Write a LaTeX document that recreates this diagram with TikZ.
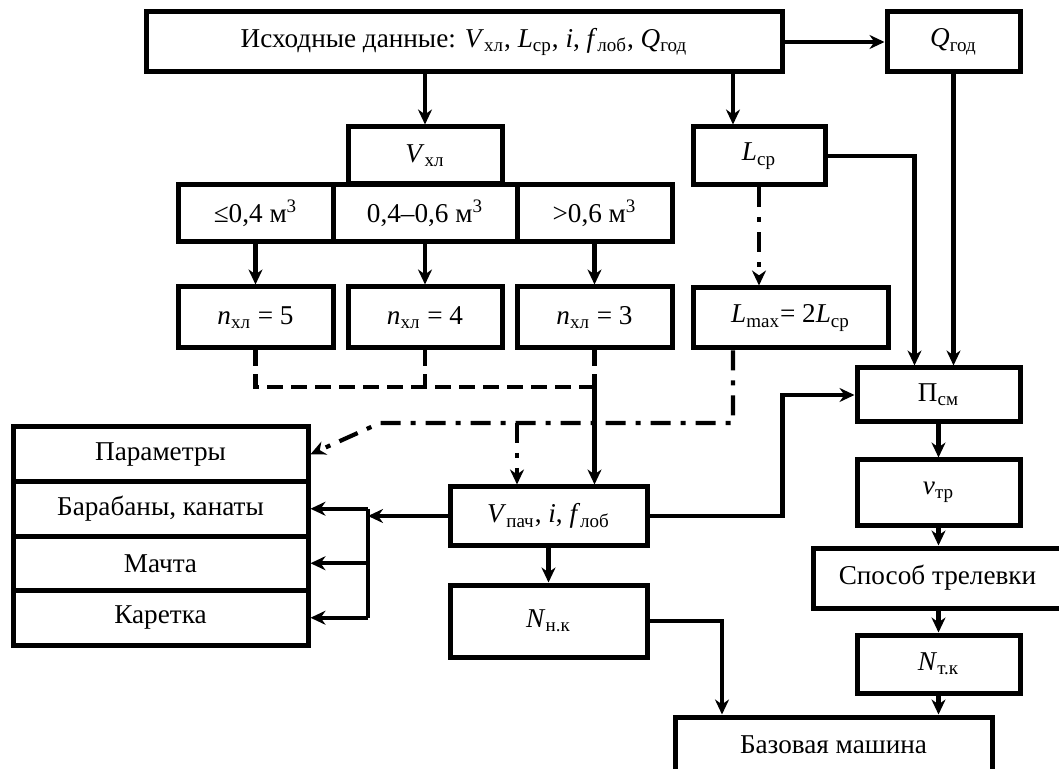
\documentclass[tikz,border=0pt]{standalone}
\usepackage{fontspec}
\setmainfont{Liberation Serif}
\usetikzlibrary{arrows.meta}

\newcommand{\vr}[2]{\textit{#1}\textsubscript{#2}}

\begin{document}
\begin{tikzpicture}[x=0.5pt,y=-0.5pt,
  font=\fontsize{13.6}{16}\selectfont,
  box/.style={draw,line width=2.5pt,inner sep=0pt,align=center},
  wire/.style={line width=2.1pt},
  arr/.style={line width=2.1pt,-{Stealth[length=7.5pt,width=7pt]}},
  dashline/.style={line width=2.1pt,dash pattern=on 8pt off 4pt},
  dotline/.style={line width=2.1pt,dash pattern=on 10pt off 5pt on 2.5pt off 5pt}]
\useasboundingbox (0,0) rectangle (1059,769);

% input data
\node[box,minimum width=318pt,minimum height=30pt] (init) at (464,42) {Исходные данные: \vr{V}{хл}, \vr{L}{ср}, \textit{i}, \vr{f}{лоб}, \vr{Q}{год}};
\node[box,minimum width=66.5pt,minimum height=30pt] (Qgod) at (953.5,42) {\vr{Q}{год}};

% volume of a tree
\node[box,minimum width=77pt,minimum height=28.5pt] (Vxl) at (425,155.5) {\vr{V}{хл}};
\node[box,minimum width=77.5pt,minimum height=28.5pt] (le04) at (255.5,213.5) {≤0,4 м\textsuperscript{3}};
\node[box,minimum width=92pt,minimum height=28.5pt] (mid) at (425,213.5) {0,4–0,6 м\textsuperscript{3}};
\node[box,minimum width=77.5pt,minimum height=28.5pt] (gt06) at (594.5,213.5) {>0,6 м\textsuperscript{3}};
\node[box,minimum width=77.5pt,minimum height=30.5pt] (n5) at (255.5,317.5) {\vr{n}{хл} = 5};
\node[box,minimum width=77pt,minimum height=30.5pt] (n4) at (425,317.5) {\vr{n}{хл} = 4};
\node[box,minimum width=77.5pt,minimum height=30.5pt] (n3) at (594.5,317.5) {\vr{n}{хл} = 3};

% distance
\node[box,minimum width=66pt,minimum height=29pt] (Lcp) at (759,156) {\vr{L}{ср}};
\node[box,minimum width=97.5pt,minimum height=30pt] (Lmax) at (790.5,318) {\textit{L}\textsubscript{max}= 2\vr{L}{ср}};

% right column
\node[box,minimum width=81.5pt,minimum height=27pt] (Pcm) at (938.5,395) {П\textsubscript{см}};
\node[box,minimum width=81.5pt,minimum height=32.5pt] (vtr) at (938.5,492.5) {\vr{v}{тр}};
\node[box,minimum width=124.5pt,minimum height=30pt] (sposob) at (937.5,578) {Способ трелевки};
\node[box,minimum width=81.5pt,minimum height=29pt] (Ntk) at (938.5,664) {\vr{N}{т.к}};
\node[box,minimum width=158.5pt,minimum height=27.5pt] (baza) at (833.5,744.5) {Базовая машина};

% load and engine
\node[box,minimum width=98.5pt,minimum height=29pt] (Vpach) at (548.5,516) {\vr{V}{пач}, \textit{i}, \vr{f}{лоб}};
\node[box,minimum width=98.5pt,minimum height=36pt] (Nnk) at (548.5,621) {\vr{N}{н.к}};

% parameters stack
\node[box,minimum width=147.5pt,minimum height=27.25pt] (par) at (160.5,454.25) {Параметры};
\node[box,minimum width=147.5pt,minimum height=27.25pt] (drum) at (160.5,508.75) {Барабаны, канаты};
\node[box,minimum width=147.5pt,minimum height=27.25pt] (mast) at (160.5,563.25) {Мачта};
\node[box,minimum width=147.5pt,minimum height=27.25pt] (car) at (160.5,617.75) {Каретка};

% helper points
\coordinate (lcpin) at ([xshift=-13pt]Lcp.north);
\coordinate (jn) at (594.5,387);
\coordinate (lm) at ([xshift=-28.75pt]Lmax.south);
\coordinate (dd) at (733,423);
\coordinate (bend) at (380,423);
\coordinate (vin) at ([xshift=-15.75pt]Vpach.north);
\coordinate (bus) at (368,516);
\coordinate (pin) at ([xshift=-12pt]Pcm.north);
\coordinate (bin) at ([xshift=-55.75pt]baza.north);

% connectors
\draw[arr] (init.east) -- (Qgod.west);
\draw[arr] (init.south -| Vxl.north) -- (Vxl.north);
\draw[arr] (init.south -| lcpin) -- (lcpin);
\draw[arr] (le04.south) -- (n5.north);
\draw[arr] (mid.south) -- (n4.north);
\draw[arr] (gt06.south) -- (n3.north);
\draw[dashline] (n5.south) |- (jn) (n4.south) -- (n4.south |- jn) (n3.south) -- (jn);
\draw[arr] (jn) -- (Vpach.north -| jn);
\draw[dotline,arr] (Lcp.south) -- (Lcp.south |- Lmax.north);
\draw[arr] (Lcp.east) -| (pin);
\draw[arr] (Qgod.south) -- (Qgod.south |- Pcm.north);
\draw[dotline,arr] (lm) -- (dd) -- (bend) -- (par.east);
\draw[dotline,arr] (vin |- dd) -- (vin);
\draw[arr] (Vpach.west) -- (bus);
\draw[wire] (bus |- drum.east) -- (bus |- car.east);
\draw[arr] (bus |- drum.east) -- (drum.east);
\draw[arr] (bus |- mast.east) -- (mast.east);
\draw[arr] (bus |- car.east) -- (car.east);
\draw[arr] (Vpach.east) -- ++(66.5pt,0) |- (Pcm.west);
\draw[arr] (Vpach.south) -- (Nnk.north);
\draw[arr] (Nnk.east) -| (bin);
\draw[arr] (Pcm.south) -- (vtr.north);
\draw[arr] (vtr.south) -- (vtr.south |- sposob.north);
\draw[arr] (sposob.south -| Ntk.north) -- (Ntk.north);
\draw[arr] (Ntk.south) -- (Ntk.south |- baza.north);

\end{tikzpicture}
\end{document}
